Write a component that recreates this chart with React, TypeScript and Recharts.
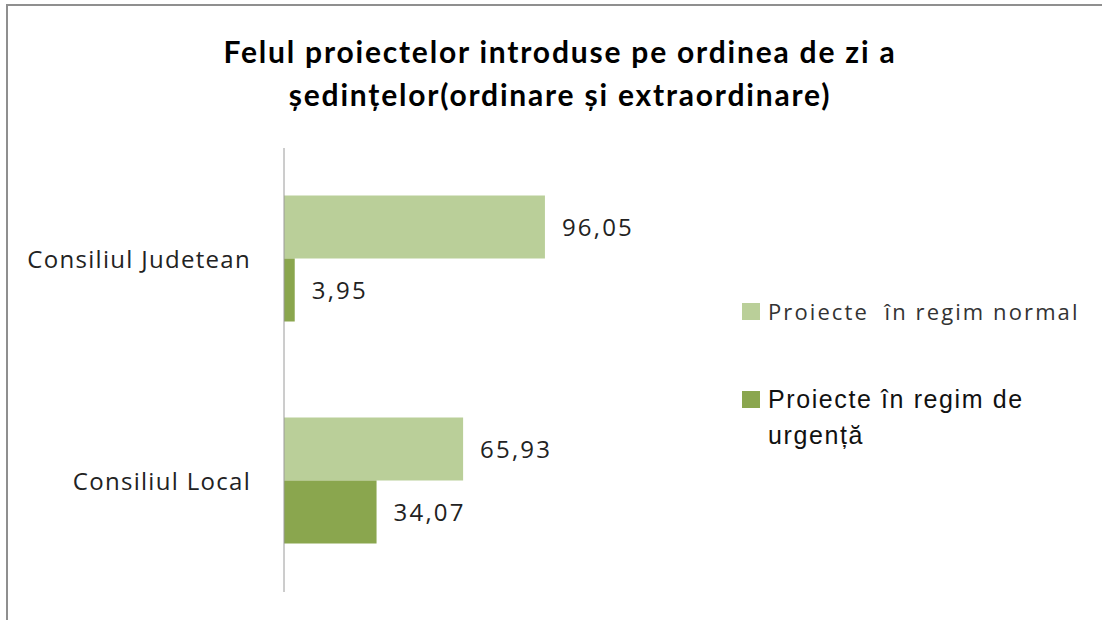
import { Bar, BarChart, LabelList, Legend, XAxis, YAxis } from "recharts"

const categories = ["Consiliul Judetean", "Consiliul Local"]
const normalValues = [96.05, 65.93]
const urgentValues = [3.95, 34.07]
const seriesNames = ["Proiecte  în regim normal", "Proiecte în regim de urgență"]
const titleLines = ["Felul proiectelor introduse pe ordinea de zi a", "ședințelor(ordinare și extraordinare)"]

const LIGHT = "#bacf99"
const DARK = "#8aa64e"

const fmt = (v: any) => Number(v).toFixed(2).replace(".", ",")

function LegendBox() {
  return (
    <div style={{ width: 350 }}>
      <div style={{ display: "flex", alignItems: "center", fontFamily: "Open Sans", fontSize: 22, letterSpacing: 2.1, color: "#333", whiteSpace: "pre" }}>
        <span style={{ width: 18, height: 17, background: LIGHT, marginRight: 8, flexShrink: 0 }} />
        {seriesNames[0]}
      </div>
      <div style={{ display: "flex", alignItems: "flex-start", marginTop: 55, fontFamily: "Liberation Sans", fontSize: 25, letterSpacing: 1.6, color: "#111", lineHeight: "36px" }}>
        <span style={{ width: 18, height: 17, background: DARK, marginRight: 8, marginTop: 10, flexShrink: 0 }} />
        <span style={{ width: 300 }}>{seriesNames[1]}</span>
      </div>
    </div>
  )
}

export default function App() {
  const data = categories.map((name, i) => ({
    name,
    normal: normalValues[i],
    urgent: urgentValues[i],
  }))

  const labelStyle = { fontFamily: "Open Sans", fontSize: 24, letterSpacing: 2.2, fill: "#222" }

  return (
    <div style={{ position: "absolute", left: 0, top: 0, width: 1102, height: 620, background: "#fff", overflow: "hidden" }}>
      <div
        style={{
          position: "absolute",
          left: 6,
          top: 4,
          right: -10,
          bottom: -10,
          borderTop: "2px solid #8f8f8f",
          borderLeft: "2px solid #8f8f8f",
        }}
      />
      <div
        style={{
          position: "absolute",
          left: 0,
          width: 1120,
          top: 30,
          textAlign: "center",
          fontFamily: "Lato",
          fontWeight: 700,
          fontSize: 30,
          letterSpacing: 1.8,
          lineHeight: "43px",
          color: "#000",
        }}
      >
        {titleLines.map((t) => (
          <div key={t}>{t}</div>
        ))}
      </div>
      <div style={{ position: "absolute", left: 0, top: 0 }}>
        <BarChart
          width={1102}
          height={620}
          data={data}
          layout="vertical"
          margin={{ top: 148, right: 492, bottom: 28, left: 0 }}
          barCategoryGap="21.4%"
          barGap={0}
        >
          <XAxis type="number" domain={[0, 120]} hide />
          <YAxis
            type="category"
            dataKey="name"
            width={284}
            axisLine={{ stroke: "#9a9a9a" }}
            tickLine={false}
            tickSize={0}
            tickMargin={33}
            tick={{ fontFamily: "Open Sans", fontSize: 24, letterSpacing: 1.3, fill: "#222" }}
          />
          <Legend
            layout="vertical"
            align="center"
            verticalAlign="middle"
            wrapperStyle={{ left: 742, top: 296, width: 350 }}
            content={() => <LegendBox />}
          />
          <Bar dataKey="normal" name={seriesNames[0]} fill={LIGHT} isAnimationActive={false}>
            <LabelList dataKey="normal" position="right" offset={17} formatter={fmt} style={labelStyle} />
          </Bar>
          <Bar dataKey="urgent" name={seriesNames[1]} fill={DARK} isAnimationActive={false}>
            <LabelList dataKey="urgent" position="right" offset={17} formatter={fmt} style={labelStyle} />
          </Bar>
        </BarChart>
      </div>
    </div>
  )
}
